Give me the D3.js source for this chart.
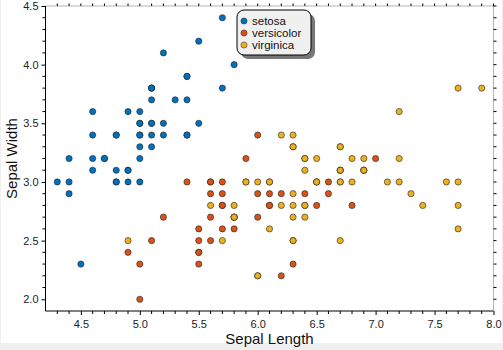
<!DOCTYPE html>
<html><head><meta charset="utf-8">
<script src="https://cdn.jsdelivr.net/npm/d3@7"></script>
<style>
html,body{margin:0;padding:0;background:#f0f0f0;}
svg{display:block;}
</style></head>
<body>
<svg id="c" width="503" height="350"></svg>
<script>
const species = ["setosa","versicolor","virginica"];
const colors = ["#0072BD","#D95319","#EDB120"];
const setosaLength = [5.1,4.9,4.7,4.6,5.0,5.4,4.6,5.0,4.4,4.9,5.4,4.8,4.8,4.3,5.8,5.7,5.4,5.1,5.7,5.1,5.4,5.1,4.6,5.1,4.8,5.0,5.0,5.2,5.2,4.7,4.8,5.4,5.2,5.5,4.9,5.0,5.5,4.9,4.4,5.1,5.0,4.5,4.4,5.0,5.1,4.8,5.1,4.6,5.3,5.0];
const setosaWidth = [3.5,3.0,3.2,3.1,3.6,3.9,3.4,3.4,2.9,3.1,3.7,3.4,3.0,3.0,4.0,4.4,3.9,3.5,3.8,3.8,3.4,3.7,3.6,3.3,3.4,3.0,3.4,3.5,3.4,3.2,3.1,3.4,4.1,4.2,3.1,3.2,3.5,3.6,3.0,3.4,3.5,2.3,3.2,3.5,3.8,3.0,3.8,3.2,3.7,3.3];
const versicolorLength = [7.0,6.4,6.9,5.5,6.5,5.7,6.3,4.9,6.6,5.2,5.0,5.9,6.0,6.1,5.6,6.7,5.6,5.8,6.2,5.6,5.9,6.1,6.3,6.1,6.4,6.6,6.8,6.7,6.0,5.7,5.5,5.5,5.8,6.0,5.4,6.0,6.7,6.3,5.6,5.5,5.5,6.1,5.8,5.0,5.6,5.7,5.7,6.2,5.1,5.7];
const versicolorWidth = [3.2,3.2,3.1,2.3,2.8,2.8,3.3,2.4,2.9,2.7,2.0,3.0,2.2,2.9,2.9,3.1,3.0,2.7,2.2,2.5,3.2,2.8,2.5,2.8,2.9,3.0,2.8,3.0,2.9,2.6,2.4,2.4,2.7,2.7,3.0,3.4,3.1,2.3,3.0,2.5,2.6,3.0,2.6,2.3,2.7,3.0,2.9,2.9,2.5,2.8];
const virginicaLength = [6.3,5.8,7.1,6.3,6.5,7.6,4.9,7.3,6.7,7.2,6.5,6.4,6.8,5.7,5.8,6.4,6.5,7.7,7.7,6.0,6.9,5.6,7.7,6.3,6.7,7.2,6.2,6.1,6.4,7.2,7.4,7.9,6.4,6.3,6.1,7.7,6.3,6.4,6.0,6.9,6.7,6.9,5.8,6.8,6.7,6.7,6.3,6.5,6.2,5.9];
const virginicaWidth = [3.3,2.7,3.0,2.9,3.0,3.0,2.5,2.9,2.5,3.6,3.2,2.7,3.0,2.5,2.8,3.2,3.0,3.8,2.6,2.2,3.2,2.8,2.8,2.7,3.3,3.2,2.8,3.0,2.8,3.0,2.8,3.8,2.8,2.8,2.6,3.0,3.4,3.1,3.0,3.1,3.1,3.1,2.7,3.2,3.3,3.0,2.5,3.0,3.4,3.0];
const xMajorTicks = [4.5,5.0,5.5,6.0,6.5,7.0,7.5,8.0];
const yMajorTicks = [2.0,2.5,3.0,3.5,4.0,4.5];
const xLabel = "Sepal Length", yLabel = "Sepal Width";

const seriesL = [setosaLength, versicolorLength, virginicaLength];
const seriesW = [setosaWidth, versicolorWidth, virginicaWidth];

const svg = d3.select("#c");
svg.append("rect").attr("x",1).attr("y",0).attr("width",501).attr("height",343).attr("fill","#fff");

const L=45.5, R=493.5, T=6, B=311;
const x = d3.scaleLinear().domain([4.2,8.0]).range([L,R]);
const y = d3.scaleLinear().domain([1.9,4.5]).range([B,T]);

const minorX = d3.range(43,81).map(d=>d/10);
const minorY = d3.range(20,46).map(d=>d/10);
const font = "Liberation Sans, Arial, Helvetica, sans-serif";

const g = svg.append("g");
g.append("line").attr("x1",L).attr("x2",R).attr("y1",T).attr("y2",T).attr("stroke","#b4b4b4");
g.append("line").attr("x1",R).attr("x2",R).attr("y1",T).attr("y2",B).attr("stroke","#b4b4b4");

seriesL.forEach((ls,i)=>{
  g.append("g").selectAll("circle").data(ls.map((v,j)=>[v,seriesW[i][j]])).join("circle")
    .attr("cx",d=>x(d[0])).attr("cy",d=>y(d[1])).attr("r",3.1)
    .attr("fill",colors[i]).attr("stroke","#222").attr("stroke-width",0.6);
});

function tickFmt(d){return d3.format(".1f")(d);}
const xb = d3.axisBottom(x).tickValues(xMajorTicks).tickSize(4).tickFormat(tickFmt);
const gb = svg.append("g").attr("transform",`translate(0,${B})`).call(xb);
gb.append("g").selectAll("line").data(minorX.filter(v=>!xMajorTicks.some(m=>Math.abs(m-v)<1e-6)))
  .join("line").attr("x1",d=>x(d)).attr("x2",d=>x(d)).attr("y1",0).attr("y2",3).attr("stroke","#000");
const yl = d3.axisLeft(y).tickValues(yMajorTicks).tickSize(4).tickFormat(tickFmt);
const gl = svg.append("g").attr("transform",`translate(${L},0)`).call(yl);
gl.append("g").selectAll("line").data(minorY.filter(v=>!yMajorTicks.some(m=>Math.abs(m-v)<1e-6)))
  .join("line").attr("y1",d=>y(d)).attr("y2",d=>y(d)).attr("x1",0).attr("x2",-3).attr("stroke","#000");
[gb,gl].forEach(a=>{
  a.select(".domain").attr("stroke","#000");
  a.selectAll(".tick text").attr("font-family",font).attr("font-size",11).attr("fill","#222");
});
gb.selectAll(".tick text").attr("dy","0.9em");
gl.select(".domain").attr("d",`M0,${B}V${T}`);
gb.select(".domain").attr("d",`M${L},0H${R}`);
svg.append("g").selectAll("line").data(minorX).join("line")
  .attr("x1",d=>x(d)).attr("x2",d=>x(d)).attr("y1",T).attr("y2",T-2.5).attr("stroke","#000");
svg.append("g").selectAll("line").data(minorY).join("line")
  .attr("y1",d=>y(d)).attr("y2",d=>y(d)).attr("x1",R).attr("x2",R+3).attr("stroke","#000");

svg.append("text").attr("x",(L+R)/2).attr("y",344).attr("text-anchor","middle")
  .attr("font-family",font).attr("font-size",15).attr("fill","#111").text(xLabel);
svg.append("text").attr("transform",`translate(17,${(T+B)/2}) rotate(-90)`).attr("text-anchor","middle")
  .attr("font-family",font).attr("font-size",15).attr("fill","#111").text(yLabel);

const lg = svg.append("g").attr("transform","translate(237,10)");
lg.append("rect").attr("x",4).attr("y",4).attr("width",74).attr("height",45).attr("rx",7).attr("fill","#777");
lg.append("rect").attr("x",0).attr("y",0).attr("width",74).attr("height",45).attr("rx",7).attr("fill","#f0f0f0").attr("stroke","#000").attr("stroke-width",1);
species.forEach((s,i)=>{
  const yy = 11 + i*12;
  lg.append("circle").attr("cx",7).attr("cy",yy).attr("r",3.1).attr("fill",colors[i]).attr("stroke","#222").attr("stroke-width",0.5);
  lg.append("text").attr("x",15).attr("y",yy).attr("dy","0.35em").attr("font-family",font).attr("font-size",11.5).attr("fill","#111").text(s);
});
</script>
</body></html>
